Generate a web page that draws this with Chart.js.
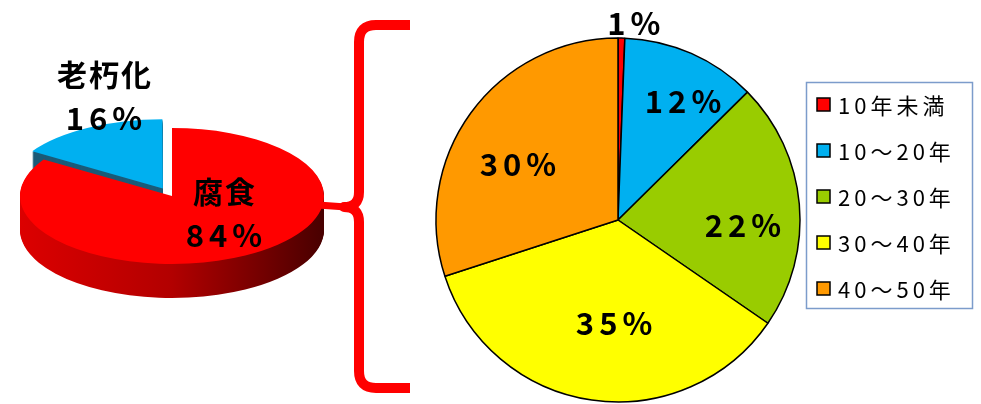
<!DOCTYPE html>
<html>
<head>
<meta charset="utf-8">
<script src="https://cdn.jsdelivr.net/npm/chart.js@4/dist/chart.umd.min.js"></script>
<style>
  body { margin: 0; background: #fff; overflow: hidden; }
  #wrap { position: relative; width: 981px; height: 404px; overflow: hidden; }
  canvas { position: absolute; top: 0; }
  #left { left: -40px; }
  #right { left: 0; }
</style>
</head>
<body>
<div id="wrap">
  <canvas id="left" width="1021" height="404"></canvas>
  <canvas id="right" width="981" height="404"></canvas>
</div>
<script>
// left: cause
const causeLabels = ['腐食', '老朽化'];
const causeValues = [84, 16];
const causeColors = ['#ff0000', '#00b0f0'];

// right: age of pipe
const ageLabels = ['10年未満', '10～20年', '20～30年', '30～40年', '40～50年'];
const ageValues = [0.6, 12, 22, 35.4, 30];
const ageColors = ['#ff0000', '#00b0f0', '#99cc00', '#ffff00', '#ff9900'];

const FONT = "'Noto Sans CJK JP', 'Noto Sans', sans-serif";

function pct(values, i) {
  const total = values.reduce((a, b) => a + b, 0);
  return Math.round(values[i] / total * 100) + '%';
}

function spacedText(ctx, txt, x, y, sp) {
  ctx.letterSpacing = sp + 'px';
  ctx.fillText(txt, x + sp / 2, y);
  ctx.letterSpacing = '0px';
}

// fake 3D: squash pie into an ellipse and stack darker copies underneath
const K = 0.447, DEPTH = 34;
const causeText = [[52, -4], [-68, -121]]; // label offset from pie centre
const pie3d = {
  id: 'pie3d',
  beforeDatasetsDraw(chart) {
    const ctx = chart.ctx;
    const arcs = chart.getDatasetMeta(0).data;
    const cx = arcs[0].x, cy = arcs[0].y, r = arcs[0].outerRadius;
    ctx.save();
    ctx.translate(cx, cy); ctx.scale(1, K); ctx.translate(-cx, -cy);
    const grad = ctx.createLinearGradient(cx - r, 0, cx + r, 0);
    grad.addColorStop(0, '#dc0000');
    grad.addColorStop(0.5, '#b20000');
    grad.addColorStop(1, '#480000');
    const sides = [grad, '#1b5b78'];
    for (let d = DEPTH; d > 0; d--) {
      ctx.save();
      ctx.translate(0, d / K);
      arcs.forEach((a, i) => {
        const saved = a.options;
        a.options = Object.assign({}, saved, {backgroundColor: sides[i], borderWidth: 0});
        a.draw(ctx);
        a.options = saved;
      });
      ctx.restore();
    }
  },
  afterDatasetsDraw(chart) {
    const ctx = chart.ctx;
    ctx.restore();
    const arc = chart.getDatasetMeta(0).data[0];
    ctx.save();
    ctx.fillStyle = '#000';
    ctx.textAlign = 'center';
    ctx.textBaseline = 'middle';
    causeLabels.forEach((t, i) => {
      const x = arc.x + causeText[i][0], y = arc.y + causeText[i][1];
      ctx.font = 'bold 30px ' + FONT;
      spacedText(ctx, t, x, y, 2);
      ctx.font = 'bold 31px ' + FONT;
      spacedText(ctx, pct(causeValues, i), x, y + 43, 5);
    });
    ctx.restore();
  }
};

new Chart(document.getElementById('left'), {
  type: 'pie',
  data: {
    labels: causeLabels,
    datasets: [{
      data: causeValues,
      backgroundColor: causeColors,
      borderWidth: 0,
      offset: [0, 76],
      clip: false
    }]
  },
  options: {
    responsive: false,
    animation: false,
    events: [],
    radius: 152,
    layout: { padding: { left: 20, right: 617, top: 0, bottom: 12 } },
    plugins: { legend: { display: false }, tooltip: { enabled: false } }
  },
  plugins: [pie3d]
});

// label placement: [radius fraction, angle nudge deg]
const ageText = [[1.086, 3.5], [0.745, 4.9], [0.687, 7.3], [0.566, -6.1], [0.63, -6.8]];
const rightDeco = {
  id: 'rightDeco',
  afterDatasetsDraw(chart) {
    const ctx = chart.ctx;
    const arcs = chart.getDatasetMeta(0).data;
    ctx.save();
    ctx.fillStyle = '#000';
    ctx.textAlign = 'center';
    ctx.textBaseline = 'middle';
    ctx.font = 'bold 31px ' + FONT;
    arcs.forEach((a, i) => {
      const mid = (a.startAngle + a.endAngle) / 2 + ageText[i][1] * Math.PI / 180;
      const rr = a.outerRadius * ageText[i][0];
      spacedText(ctx, pct(ageValues, i), a.x + Math.cos(mid) * rr, a.y + Math.sin(mid) * rr, 5);
    });
    ctx.restore();
  },
  afterDraw(chart) {
    const ctx = chart.ctx;
    ctx.save();
    // legend
    ctx.strokeStyle = '#7c9ccb';
    ctx.lineWidth = 1.5;
    ctx.strokeRect(806.5, 82.5, 166, 226);
    ctx.textBaseline = 'middle';
    ctx.font = '22px ' + FONT;
    ageLabels.forEach((t, i) => {
      const y = 105 + i * 46;
      ctx.fillStyle = ageColors[i];
      ctx.fillRect(817, y - 7, 13, 13);
      ctx.strokeStyle = '#000';
      ctx.lineWidth = 1.5;
      ctx.strokeRect(817, y - 7, 13, 13);
      ctx.fillStyle = '#000';
      ctx.letterSpacing = '4px';
      ctx.fillText(t, 838, y + 1);
      ctx.letterSpacing = '0px';
    });
    // brace
    ctx.strokeStyle = '#ff0000';
    ctx.lineWidth = 10;
    ctx.lineJoin = 'round';
    ctx.beginPath();
    ctx.moveTo(410, 25);
    ctx.lineTo(376, 25);
    ctx.quadraticCurveTo(359, 25, 359, 42);
    ctx.lineTo(359, 192);
    ctx.quadraticCurveTo(359, 207, 344, 207);
    ctx.quadraticCurveTo(359, 207, 359, 222);
    ctx.lineTo(359, 371);
    ctx.quadraticCurveTo(359, 388, 376, 388);
    ctx.lineTo(410, 388);
    ctx.stroke();
    ctx.lineWidth = 7;
    ctx.beginPath();
    ctx.moveTo(346, 207);
    ctx.lineTo(318, 205);
    ctx.stroke();
    ctx.restore();
  }
};

new Chart(document.getElementById('right'), {
  type: 'pie',
  data: {
    labels: ageLabels,
    datasets: [{
      data: ageValues,
      backgroundColor: ageColors,
      borderColor: '#000',
      borderWidth: 1.5
    }]
  },
  options: {
    responsive: false,
    animation: false,
    events: [],
    radius: 182,
    layout: { padding: { left: 428, right: 173, top: 36, bottom: 0 } },
    plugins: { legend: { display: false }, tooltip: { enabled: false } }
  },
  plugins: [rightDeco]
});
</script>
</body>
</html>
